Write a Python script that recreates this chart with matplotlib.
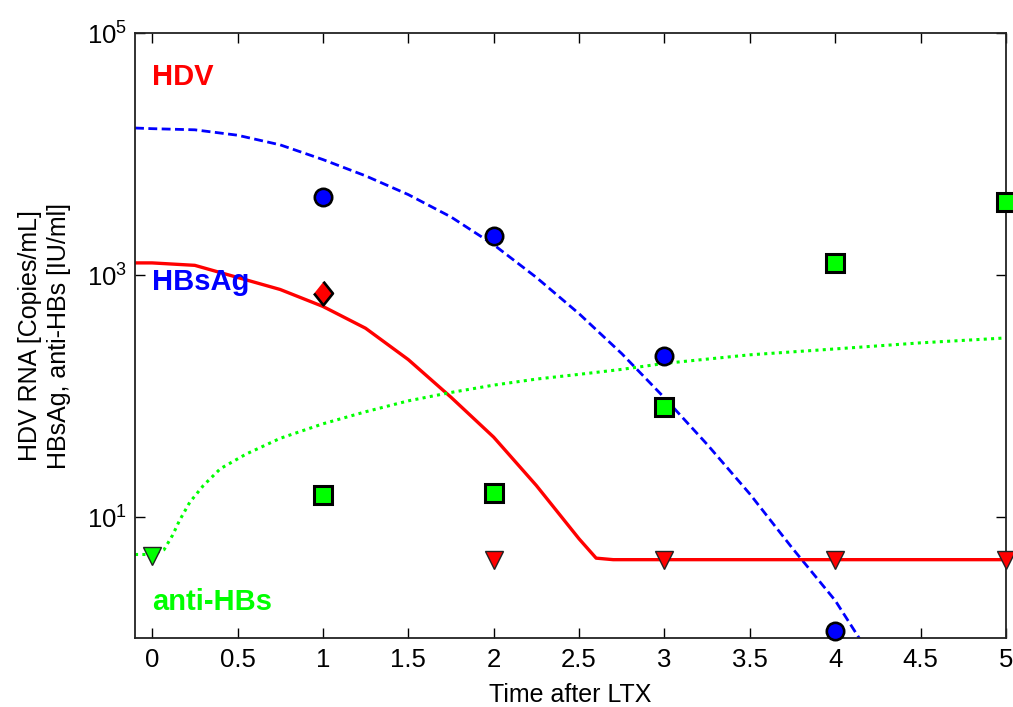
import matplotlib
matplotlib.use("Agg")
import matplotlib.pyplot as plt
from matplotlib.ticker import NullLocator

plt.rcParams['font.family'] = ['Liberation Sans', 'DejaVu Sans']
plt.rcParams['mathtext.fontset'] = 'custom'
plt.rcParams['mathtext.rm'] = 'Liberation Sans'

# ---- data ----
# model curves
hbsag_curve_x = [-0.1, 0.0, 0.25, 0.5, 0.75, 1.0, 1.25, 1.5, 1.75, 2.0, 2.25,
                 2.5, 2.75, 3.0, 3.25, 3.5, 3.75, 4.0, 4.14, 4.2]
hbsag_curve_y = [16400, 16200, 15850, 14300, 11900, 9000, 6600, 4620, 3020,
                 1780, 955, 479, 224, 96.6, 39.8, 15.5, 5.5, 2.04, 1.0, 0.8]

hdv_curve_x = [-0.1, 0.0, 0.25, 0.5, 0.75, 1.0, 1.25, 1.5, 1.75, 2.0, 2.25,
               2.5, 2.6, 2.7, 5.0]
hdv_curve_y = [1259, 1259, 1202, 955, 759, 550, 363, 200, 97.7, 45.7, 18.2,
               6.6, 4.57, 4.44, 4.44]

antihbs_curve_x = [-0.1, 0.0, 0.07, 0.12, 0.16, 0.22, 0.3, 0.4, 0.55, 0.75,
                   1.0, 1.25, 1.5, 1.75, 2.0, 2.25, 2.5, 2.75, 3.0, 3.5,
                   4.0, 4.5, 5.0]
antihbs_curve_y = [4.9, 4.9, 5.37, 7.08, 9.33, 13.2, 18.2, 25.1, 33.1, 44.7,
                   58.9, 74.1, 91.2, 107, 123, 138, 151, 166, 186, 219,
                   245, 275, 302]

# measurements
hbsag_x = [1, 2, 3, 4]
hbsag_y = [4420, 2110, 214, 1.15]

hdv_x = [1]
hdv_y = [713]
hdv_below_x = [2, 3, 4, 5]          # below detection limit
hdv_below_y = [4.44, 4.44, 4.44, 4.44]

antihbs_x = [1, 2, 3, 4, 5]
antihbs_y = [15.1, 15.7, 81, 1245, 3980]
antihbs_below_x = [0]
antihbs_below_y = [4.8]

label_texts = ['HDV', 'HBsAg', 'anti-HBs']
label_y = [43600, 880, 1.99]
label_colors = ['#ff0000', '#0000ff', '#00ff00']

xticks = [0, 0.5, 1, 1.5, 2, 2.5, 3, 3.5, 4, 4.5, 5]
xtick_labels = ['0', '0.5', '1', '1.5', '2', '2.5', '3', '3.5', '4', '4.5', '5']
yticks = [10, 1000, 100000]
ytick_labels = [r'$\mathregular{10^{1}}$', r'$\mathregular{10^{3}}$', r'$\mathregular{10^{5}}$']

# ---- figure ----
fig = plt.figure(figsize=(10.13, 7.07), dpi=100)
ax = fig.add_axes([0.1333, 0.0976, 0.8598, 0.8557])

RED = '#ff0000'
BLUE = '#0000ff'
GREEN = '#00ff00'

ax.plot(hbsag_curve_x, hbsag_curve_y, color=BLUE, lw=2.0,
        linestyle=(0, (3.2, 1.6)), zorder=2)
ax.plot(hdv_curve_x, hdv_curve_y, color=RED, lw=2.4, zorder=2)
ax.plot(antihbs_curve_x, antihbs_curve_y, color=GREEN, lw=2.2,
        linestyle=(0, (1, 1.4)), zorder=2)

diamond = [(0, 1), (0.8, 0), (0, -1), (-0.8, 0)]
ax.plot(hbsag_x, hbsag_y, 'o', ms=12.5, mfc=BLUE, mec='black', mew=1.9,
        clip_on=False, zorder=5)
ax.plot(hdv_x, hdv_y, marker=diamond, ls='none', ms=17, mfc=RED, mec='black',
        mew=1.9, clip_on=False, zorder=5)
ax.plot(hdv_below_x, hdv_below_y, 'v', ms=13.5, mfc=RED, mec='#222222', mew=1.0,
        clip_on=False, zorder=5)
ax.plot(antihbs_x, antihbs_y, 's', ms=12.5, mfc=GREEN, mec='black', mew=2.2,
        clip_on=False, zorder=5)
ax.plot(antihbs_below_x, antihbs_below_y, 'v', ms=13.5, mfc=GREEN, mec='#222222',
        mew=1.0, clip_on=False, zorder=5)

for t, yv, c in zip(label_texts, label_y, label_colors):
    ax.text(0.0, yv, t, color=c, fontsize=21, fontweight='bold',
            ha='left', va='center')

ax.set_yscale('log')
ax.set_xlim(-0.1, 5)
ax.set_ylim(1, 1e5)
ax.set_xticks(xticks)
ax.set_xticklabels(xtick_labels)
ax.set_yticks(yticks)
ax.set_yticklabels(ytick_labels)
ax.yaxis.set_minor_locator(NullLocator())
ax.xaxis.set_minor_locator(NullLocator())

ax.tick_params(axis='both', which='major', direction='in', length=7, width=1.0,
               top=True, right=True, labelsize=18.5, colors='black')
ax.tick_params(axis='x', pad=7)
ax.tick_params(axis='y', pad=6)
for s in ax.spines.values():
    s.set_linewidth(1.3)
    s.set_color('#222222')

ax.set_xlabel('Time after LTX', fontsize=18, labelpad=8)
ax.set_ylabel('HDV RNA [Copies/mL]\nHBsAg, anti-HBs [IU/ml]', fontsize=18,
              labelpad=11, linespacing=1.3)

fig.savefig('out.png', dpi=100)
